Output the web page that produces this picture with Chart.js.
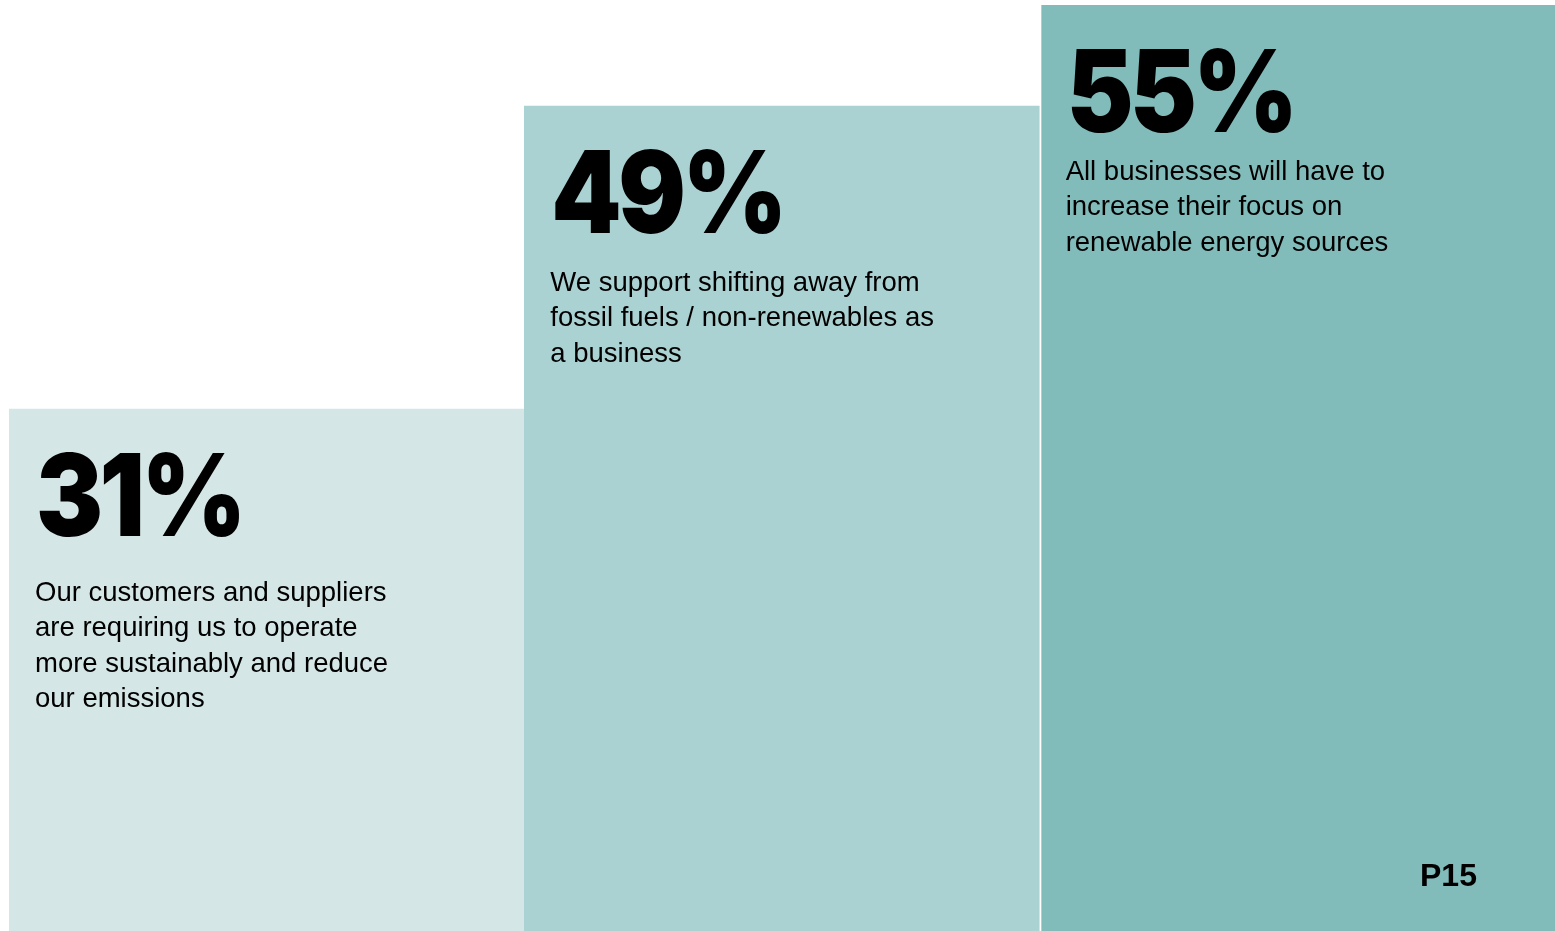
<!DOCTYPE html>
<html>
<head>
<meta charset="utf-8">
<script src="https://cdn.jsdelivr.net/npm/chart.js@4"></script>
<style>
    html, body { margin: 0; padding: 0; background: #ffffff; }
    #wrap { position: relative; width: 1555px; height: 931px; }
</style>
</head>
<body>
<div id="wrap"><canvas id="stat-chart"></canvas></div>
<script>
// values
var categories = ['Customers & suppliers', 'Shift from fossil fuels', 'Renewable energy focus'];
var shareValues = [31, 49, 55];
var valueLabels = ['31%', '49%', '55%'];
var descriptions = [
    ['Our customers and suppliers', 'are requiring us to operate', 'more sustainably and reduce', 'our emissions'],
    ['We support shifting away from', 'fossil fuels / non-renewables as', 'a business'],
    ['All businesses will have to', 'increase their focus on', 'renewable energy sources']
];
var barColors = ['#d4e7e6', '#abd2d2', '#81bcba'];
var pageLabel = 'P15';

// gap from bar top to first description line, per bar
var descOffsets = [184, 177, 167];

var statLabels = {
    id: 'statLabels',
    afterDatasetsDraw: function(chart) {
        var ctx = chart.ctx;
        var meta = chart.getDatasetMeta(0);
        ctx.save();
        ctx.fillStyle = '#000000';
        meta.data.forEach(function(bar, i) {
            var left = bar.x - bar.width / 2;

            // big percentage, squeezed a little to look condensed
            ctx.save();
            ctx.translate(left + 27, bar.y + 127);
            ctx.scale(0.88, 1);
            ctx.textAlign = 'left';
            ctx.textBaseline = 'alphabetic';
            ctx.font = '900 114px "Inter", "Roboto", sans-serif';
            ctx.letterSpacing = '-4px';
            ctx.fillText(valueLabels[i], 0, 0);
            ctx.restore();

            ctx.font = '27.5px "Liberation Sans", sans-serif';
            ctx.textAlign = 'left';
            ctx.textBaseline = 'middle';
            descriptions[i].forEach(function(line, j) {
                ctx.fillText(line, left + 26, bar.y + descOffsets[i] + j * 35.5);
            });
        });
        ctx.font = 'bold 32px "Liberation Sans", sans-serif';
        ctx.textAlign = 'left';
        ctx.textBaseline = 'middle';
        ctx.fillText(pageLabel, 1420, 877);
        ctx.restore();
    }
};

document.addEventListener('DOMContentLoaded', function() {
    var ctx = document.getElementById('stat-chart').getContext('2d');
    new Chart(ctx, {
        type: 'bar',
        data: {
            labels: categories,
            datasets: [{
                data: shareValues,
                backgroundColor: barColors,
                borderColor: '#ffffff',
                borderWidth: [0, 0, { left: 2, top: 0, right: 0, bottom: 0 }],
                borderSkipped: false,
                barPercentage: 1,
                categoryPercentage: 1
            }]
        },
        options: {
            responsive: true,
            maintainAspectRatio: false,
            animation: false,
            layout: { padding: { left: 9, top: 5, right: 0, bottom: 0 } },
            plugins: {
                legend: { display: false },
                tooltip: { enabled: false }
            },
            scales: {
                x: { display: false },
                y: { display: false, min: 0, max: 55 }
            }
        },
        plugins: [statLabels]
    });
});
</script>
</body>
</html>
